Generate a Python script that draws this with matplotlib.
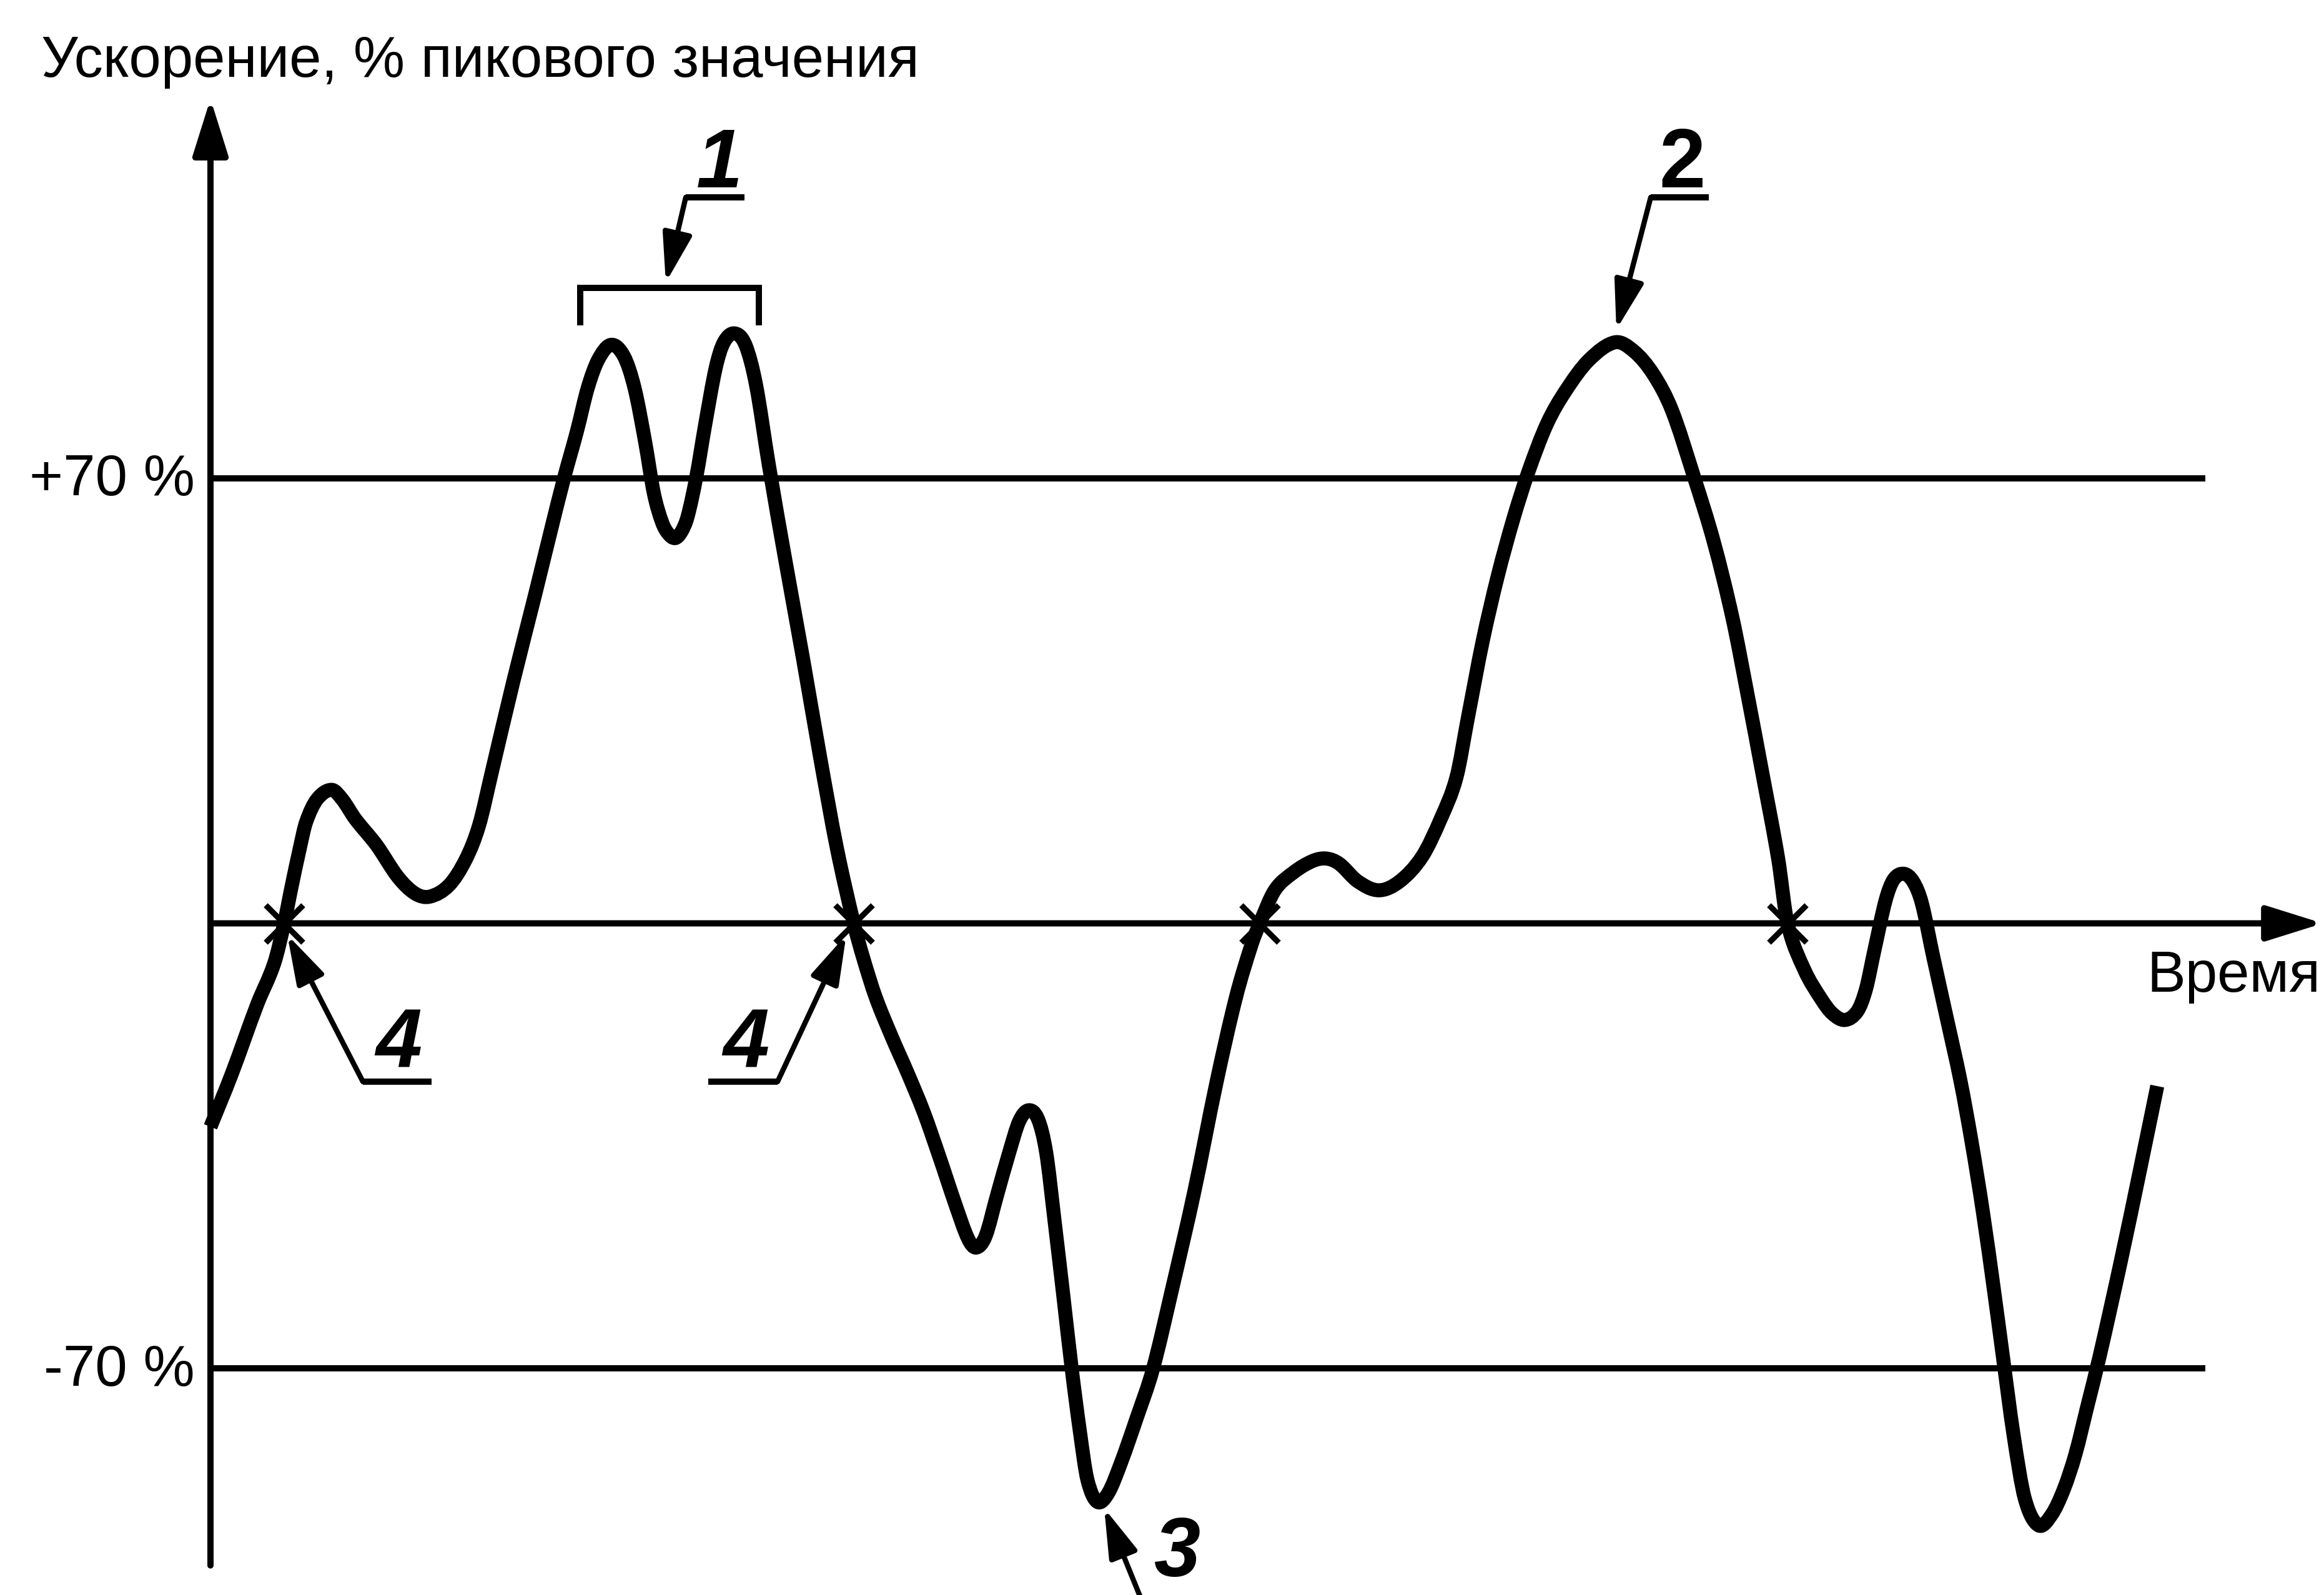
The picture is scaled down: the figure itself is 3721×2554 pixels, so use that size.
import matplotlib.pyplot as plt
from matplotlib.path import Path
from matplotlib.patches import PathPatch

# acceleration signal (time in arbitrary units, % of peak)
time = [0, 3.4, 7.5, 10.2, 11.8, 12.95, 14.3, 15.3, 17.05, 19.4, 21.1, 23.2, 26.6, 30.0,
        32.75, 35.1, 38.2, 40.9, 43.0, 45.0, 48.45, 51.9, 54.6, 56.6, 58.7, 60.4, 62.1,
        64.15, 66.2, 67.9, 69.6, 71.0, 72.3, 73.3, 74.4, 75.4, 76.4, 77.8, 79.2, 80.9,
        82.2, 83.9, 85.65, 87.35, 89.4, 92.1, 94.9, 97.6, 100.3, 103.0, 104.5, 106.5,
        109.1, 111.6, 114.2, 116.7, 119.3, 121.3, 122.6, 124.1, 125.9, 127.9, 129.5,
        131.0, 132.5, 133.8, 135.1, 136.6, 137.9, 139.2, 140.4, 142.0, 143.75, 145.8,
        148.3, 150.9, 153.95, 157.5, 161.1, 164.2, 166.7, 168.0, 170.4, 173.4, 176.45,
        178.6, 180.7, 183.7, 187.05, 190.4, 194.0, 197.05, 199.5, 201.3, 203.7, 206.1,
        208.6, 211.0, 214.0, 217.0, 220.7, 224.9, 227.9, 231.0, 234.0, 237.6, 240.7,
        243.7, 246.1, 248.5, 251.0, 252.5, 255.2, 257.9, 259.7, 261.7, 263.7, 265.05,
        266.4, 268.2, 269.5, 271.1, 272.6, 274.0, 275.8, 278.0, 280.2, 282.0, 283.8,
        285.6, 286.9, 288.7, 290.5, 292.7, 294.8, 296.75, 298.6, 300.5, 302.5, 305.9,
        309.0, 311.7]
accel = [-32.0, -23.7, -12.7, -6.3, 0, 5.6, 11.8, 15.9, 19.5, 21.0, 19.5, 16.4, 12.3, 7.3,
         4.7, 4.2, 6.0, 10.1, 15.4, 23.6, 37.9, 51.4, 62.2, 70.0, 77.5, 84.2, 88.7,
         91.0, 89.2, 84.2, 75.7, 67.6, 63.1, 61.3, 60.6, 61.6, 64.0, 70.3, 78.4, 87.4,
         91.4, 92.8, 91.0, 84.7, 72.1, 56.8, 41.5, 26.2, 11.8, 0, -5.4, -11.6,
         -17.9, -23.5, -29.7, -36.7, -44.3, -49.6, -51.0, -49.2, -42.9, -36.0, -31.1,
         -29.4, -30.8, -36.0, -46.4, -59.0, -70.1, -79.9, -87.5, -91.0, -89.6, -84.8,
         -77.8, -70.1, -57.6, -42.3, -24.9, -11.6, -3.3, 0, 5.2, 8.0, 9.8,
         10.2, 9.4, 6.6, 5.2, 6.6, 10.5, 16.6, 23.0, 32.2, 44.4, 54.6,
         63.6, 71.0, 78.6, 83.8, 88.6, 91.4, 90.0, 86.4, 80.7, 70.0, 60.0,
         48.0, 36.0, 23.5, 10.2, 0, -7.3, -11.9, -14.2, -15.2, -13.8, -10.4,
         -4.3, 3.6, 6.9, 7.8, 6.6, 3.2, -5.1, -14.9, -24.8, -34.5, -45.5,
         -58.0, -67.5, -80.5, -90.5, -94.7, -93.0, -89.0, -83.5, -76.0, -68.0, -53.0,
         -38.5, -25.6]

levels = [70, -70]
level_labels = ['+70 %', '-70 %']
ylabel = 'Ускорение, % пикового значения'
xlabel = 'Время'

plt.rcParams['font.family'] = ['Liberation Sans', 'DejaVu Sans']

fig = plt.figure(figsize=(3721 / 300, 2554 / 300), dpi=300)
ax = fig.add_axes([0, 0, 1, 1])
ax.set_xlim(-33.7, 338.4)
ax.set_ylim(-105.65, 145.24)
ax.axis('off')

lw_thin = 2.4
fs = 22.2
fs_num = 32

# axes with arrows
axis_arrow = dict(arrowstyle='-|>,head_length=18.5,head_width=5.8', mutation_scale=1,
                  lw=lw_thin, color='black', shrinkA=0, shrinkB=0)
ax.annotate('', xy=(0, 129.7), xytext=(0, -101.0), arrowprops=axis_arrow)
ax.annotate('', xy=(338.2, 0), xytext=(0, 0), arrowprops=axis_arrow)

ax.text(-27.1, 133.2, ylabel, ha='left', va='baseline', fontsize=fs)
ax.text(337.8, -10.8, xlabel, ha='right', va='baseline', fontsize=fs)

# +/-70 % levels
for lv, lb in zip(levels, level_labels):
    ax.plot([0, 319.4], [lv, lv], color='black', lw=lw_thin, solid_capstyle='butt')
    ax.text(-2.5, lv - 2.7, lb, ha='right', va='baseline', fontsize=fs)

# signal: smooth bezier path through the read points
n = len(time)
slopes = []
for i in range(n):
    a, b = max(i - 1, 0), min(i + 1, n - 1)
    slopes.append((accel[b] - accel[a]) / (time[b] - time[a]))
verts = [(time[0], accel[0])]
codes = [Path.MOVETO]
for i in range(n - 1):
    dt = (time[i + 1] - time[i]) / 3
    verts += [(time[i] + dt, accel[i] + slopes[i] * dt),
              (time[i + 1] - dt, accel[i + 1] - slopes[i + 1] * dt),
              (time[i + 1], accel[i + 1])]
    codes += [Path.CURVE4] * 3
ax.add_patch(PathPatch(Path(verts, codes), fill=False, edgecolor='black', lw=5.4,
                       joinstyle='round', capstyle='butt', zorder=3))

# zero crossings
cross_t = [ti for ti, a in zip(time, accel) if a == 0]
ax.plot(cross_t, [0] * len(cross_t), ls='none', marker='x', ms=14.6, mew=2.2,
        color='black', zorder=4)

leader = dict(arrowstyle='-|>,head_length=16,head_width=4.8', mutation_scale=1,
              lw=2.0, color='black', shrinkA=0, shrinkB=0)
num_style = dict(fontsize=fs_num, fontweight='bold')

# 1 - double peak bracket
i1 = max(range(n), key=lambda i: accel[i] if 55 < time[i] < 75 else -999)
i2 = max(range(n), key=lambda i: accel[i] if 75 < time[i] < 95 else -999)
bx0, bx1 = time[i1] - 5.0, time[i2] + 3.9
ax.plot([bx0, bx0, bx1, bx1], [94.6, 100.0, 100.0, 94.6], color='black', lw=lw_thin,
        solid_joinstyle='miter')
ax.annotate('', xy=(72.9, 100.8), xytext=(76.1, 114.2), arrowprops=leader)
ax.plot([76.1, 85.5], [114.2, 114.2], color='black', lw=lw_thin, solid_capstyle='butt')
ax.text(81.5, 115.8, '1', ha='center', va='baseline', style='italic', **num_style)

# 2 - max peak
ip = max(range(n), key=lambda i: accel[i] if time[i] > 200 else -999)
ax.annotate('', xy=(time[ip] + 0.2, accel[ip] + 2.0), xytext=(230.6, 114.2),
            arrowprops=leader)
ax.plot([230.6, 239.9], [114.2, 114.2], color='black', lw=lw_thin, solid_capstyle='butt')
ax.text(235.6, 115.8, '2', ha='center', va='baseline', **num_style)

# 3 - min
im = min(range(n), key=lambda i: accel[i] if time[i] < 200 else 999)
ax.annotate('', xy=(time[im] + 1.1, accel[im] - 1.0), xytext=(149.8, -108.2),
            arrowprops=leader, annotation_clip=False)
ax.text(154.8, -105.5, '3', ha='center', va='bottom', style='italic', **num_style)

# 4 - zero crossings
ax.annotate('', xy=(cross_t[0] + 0.5, -1.8), xytext=(24.4, -24.9), arrowprops=leader)
ax.plot([24.4, 35.4], [-24.9, -24.9], color='black', lw=lw_thin, solid_capstyle='butt')
ax.text(30.1, -22.7, '4', ha='center', va='baseline', style='italic', **num_style)

ax.annotate('', xy=(cross_t[1] - 1.2, -1.8), xytext=(90.8, -24.9), arrowprops=leader)
ax.plot([79.7, 90.8], [-24.9, -24.9], color='black', lw=lw_thin, solid_capstyle='butt')
ax.text(85.7, -22.7, '4', ha='center', va='baseline', style='italic', **num_style)

fig.savefig('out.png', dpi=300, facecolor='white')
